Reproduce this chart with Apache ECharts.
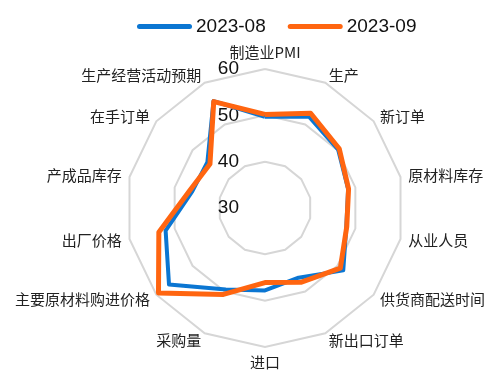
<!DOCTYPE html>
<html>
<head>
<meta charset="utf-8">
<script src="https://cdn.jsdelivr.net/npm/echarts@6/dist/echarts.min.js"></script>
<style>
  html, body { margin: 0; padding: 0; background: #fff; }
  #chart { width: 491px; height: 372px; }
</style>
</head>
<body>
<div id="chart"></div>
<script>
// PMI sub-indices, listed clockwise from the top
const indicators = ['制造业PMI', '生产', '新订单', '原材料库存', '从业人员', '供货商配送时间',
  '新出口订单', '进口', '采购量', '主要原材料购进价格', '出厂价格', '产成品库存', '在手订单', '生产经营活动预期'];
const aug = [49.7, 51.9, 50.2, 48.4, 48.0, 51.6, 46.7, 47.8, 49.5, 56.5, 52.0, 46.1, 45.9, 55.6];
const sep = [50.2, 52.7, 50.5, 48.5, 48.1, 50.8, 47.8, 46.1, 50.7, 59.4, 53.5, 46.7, 45.2, 55.5];
const seriesNames = ['2023-08', '2023-09'];
const axisMin = 30, axisMax = 60;

// ECharts places radar indicators counter-clockwise; reorder so they run clockwise
const cw = arr => [arr[0]].concat(arr.slice(1).reverse());

const chart = echarts.init(document.getElementById('chart'));
const cwNames = cw(indicators);
chart.setOption({
  animation: false,
  legend: {
    top: 12,
    left: 132,
    itemWidth: 55,
    itemHeight: 5,
    itemGap: 22,
    icon: 'path://M2.5,0 L52.5,0 A2.5,2.5 0 0 1 52.5,5 L2.5,5 A2.5,2.5 0 0 1 2.5,0 Z',
    textStyle: { fontSize: 19, color: '#111', fontFamily: 'Liberation Sans, Arial, sans-serif', padding: [0, 0, 0, -1] },
    data: seriesNames
  },
  radar: {
    center: [265, 208],
    radius: 139,
    startAngle: 90,
    splitNumber: 3,
    shape: 'polygon',
    axisName: { color: '#222', fontSize: 15, fontFamily: 'Noto Sans CJK SC, sans-serif' },
    nameGap: 8,
    splitLine: { lineStyle: { color: '#d6d6d6', width: 2 } },
    splitArea: { show: false },
    axisLine: { show: false },
    axisTick: { show: false },
    axisLabel: { show: false },
    indicator: cwNames.map((n, i) => {
      const ind = { name: n, min: axisMin, max: axisMax };
      if (i === 0) {
        ind.axisLabel = { show: true, fontSize: 19, color: '#111', margin: 26, fontFamily: 'Liberation Sans, Arial, sans-serif' };
      }
      return ind;
    })
  },
  series: [{
    type: 'radar',
    symbol: 'none',
    data: [
      { name: seriesNames[0], value: cw(aug), lineStyle: { color: '#0b76d2', width: 4 }, itemStyle: { color: '#0b76d2' } },
      { name: seriesNames[1], value: cw(sep), lineStyle: { color: '#ff6510', width: 5 }, itemStyle: { color: '#ff6510' } }
    ]
  }]
});
</script>
</body>
</html>
